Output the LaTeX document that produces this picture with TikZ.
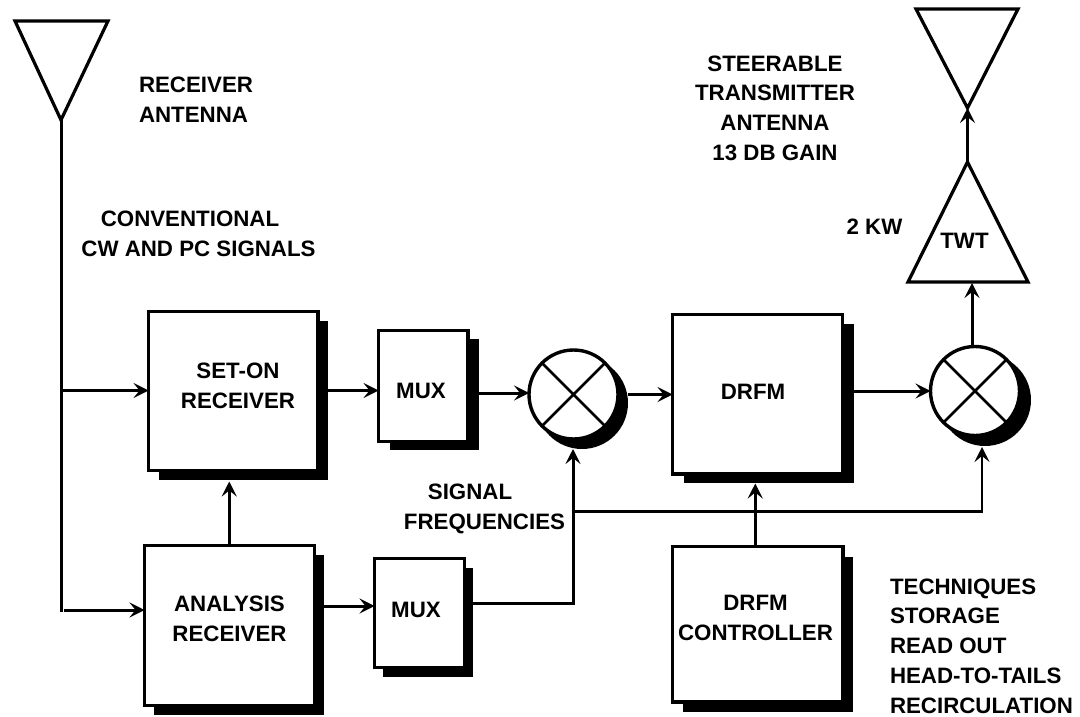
\documentclass[tikz,border=0pt]{standalone}
\usepackage{fontspec}
\setmainfont{Liberation Sans}
\usetikzlibrary{arrows.meta,calc}
\tikzset{
  x=1pt,y=-1pt,
  arr/.style={line width=3pt,-{Stealth[length=15pt,width=15pt,inset=6pt]}},
  barr/.style={line width=2.2pt,-{Stealth[length=15pt,width=15pt,inset=6pt]}},
  wire/.style={line width=3pt},
  shad/.style={draw=none,fill=black,inner sep=0,outer sep=0,rectangle},
  blockbox/.style={draw=black,fill=white,line width=3.4pt,inner sep=0,outer sep=0,rectangle},
  mixring/.style={draw=black,fill=white,line width=3.4pt,circle,inner sep=0,outer sep=0,minimum size=89pt},
  mixshad/.style={draw=none,fill=black,circle,inner sep=0,outer sep=0,minimum size=92pt},
  horn/.style={draw=black,line width=3.2pt,line join=miter,fill=white},
  lbl/.style={font=\fontsize{22.3}{29.7}\selectfont\bfseries,align=center,inner sep=0,outer sep=0},
  lblL/.style={font=\fontsize{22.3}{29.7}\selectfont\bfseries,align=left,inner sep=0,outer sep=0,anchor=west},
}
\newcommand{\blockat}[7]{% name, x0,y0,x1,y1, shadow dx,dy
  \node[shad,minimum width=#4-#2,minimum height=#5-#3] (#1s) at ({(#2+#4)/2+#6},{(#3+#5)/2+#7}) {};
  \node[blockbox,minimum width=#4-#2,minimum height=#5-#3] (#1) at ({(#2+#4)/2},{(#3+#5)/2}) {};
}
\begin{document}
\begin{tikzpicture}
\useasboundingbox (0,0) rectangle (1080,717);
\fill[white] (0,0) rectangle (1080,717);

% blocks
\blockat{seton}{148.5}{311.5}{318}{470.5}{10}{9}
\blockat{analysis}{144.5}{545.5}{314.5}{705.5}{9}{9}
\blockat{muxa}{378.5}{330.5}{468}{441.5}{11}{8.5}
\blockat{muxb}{374.5}{558.5}{464.5}{667.5}{8.5}{9}
\blockat{drfm}{672.5}{314.5}{842.5}{474}{11}{9}
\blockat{ctrl}{672.5}{546.5}{843}{702}{10}{10}

% mixers
\node[mixshad] (mixas) at (582,403) {};
\node[mixring] (mixa) at (573.5,394.5) {};
\node[mixshad] (mixbs) at (985,400) {};
\node[mixring] (mixb) at (975,391) {};
\draw[line width=2.6pt] (mixa.45) -- (mixa.225) (mixa.135) -- (mixa.315);
\draw[line width=2.6pt] (mixb.45) -- (mixb.225) (mixb.135) -- (mixb.315);

% antennas and TWT
\coordinate (rxL) at (15,21); \coordinate (rxR) at (108,21); \coordinate (rxA) at (61,120);
\draw[horn] (rxL) -- (rxR) -- (rxA) -- cycle;
\coordinate (txL) at (916,9); \coordinate (txR) at (1018,9); \coordinate (txA) at (967.5,108);
\draw[horn] (txL) -- (txR) -- (txA) -- cycle;
\coordinate (twL) at (908,282); \coordinate (twR) at (1028,282); \coordinate (twA) at (967.5,162);
\draw[horn] (twL) -- (twR) -- (twA) -- cycle;

% routing coordinates
\coordinate (r1) at (0,390.5);
\coordinate (r2) at (0,610);
\coordinate (r3) at (0,393);
\coordinate (r4) at (0,606);
\coordinate (busY) at (0,511.5);
\coordinate (bTee) at (573,603);
\coordinate (rxBase) at (61,612);
\coordinate (mbIn) at (982,447);
\coordinate (twIn) at (972,283);
\coordinate (mbOut) at (972,345);

% connectors
\draw[wire] (rxA) -- (rxBase);
\draw[arr] (rxA |- r1) -- (seton.west |- r1);
\draw[arr] (rxA |- r2) ++(3,0) -- (analysis.west |- r2);
\draw[arr] (setons.east |- r1) -- (muxa.west |- r1);
\draw[arr] (muxas.east |- r3) -- (mixa.west |- r3);
\draw[arr] (mixas.east |- mixa) -- (drfm.west |- mixa);
\draw[arr] (drfms.east |- mixb) -- (mixb.west);
\draw[arr] (analysiss.east |- r4) -- (muxb.west |- r4);
\draw[arr] (muxbs.east |- bTee) -- (bTee) -- (mixas.south -| bTee);
\draw[barr] (bTee |- busY) -| (mbIn);
\draw[arr] (analysis.north -| seton) ++(-4,0) -- ++(0,-64);
\draw[arr] (ctrl.north) ++(-2.5,0) -- ++(0,-63);
\draw[arr] (mbOut) -- (twIn);
\draw[arr] (twA) -- (txA);

% labels
\node[lbl] (tseton) at (238,385.5) {SET-ON\\RECEIVER};
\node[lbl] (tanal) at (229.5,618.5) {ANALYSIS\\RECEIVER};
\node[lbl] (tmuxa) at (421,391) {MUX};
\node[lbl] (tmuxb) at (416,610) {MUX};
\node[lbl] (tdrfm) at (753,392) {DRFM};
\node[lbl] (tctrl) at (755.5,618) {DRFM\\CONTROLLER};
\node[lbl] (ttwt) at (964.5,241) {TWT};
\node[lbl] (tkw) at (874.5,227) {2 KW};
\node[lblL] (trx) at (139,100) {RECEIVER\\ANTENNA};
\node[lbl] (tconv) at (198.5,234) {CONVENTIONAL\hspace*{17pt}\\CW AND PC SIGNALS};
\node[lbl] (tsig) at (484.5,509) {SIGNAL\hspace*{29pt}\\FREQUENCIES};
\node[lbl] (tsteer) at (775,108) {STEERABLE\\TRANSMITTER\\ANTENNA\\13 DB GAIN};
\node[lblL] (ttech) at (890,646) {TECHNIQUES\\STORAGE\\READ OUT\\HEAD-TO-TAILS\\RECIRCULATION};
\end{tikzpicture}
\end{document}
